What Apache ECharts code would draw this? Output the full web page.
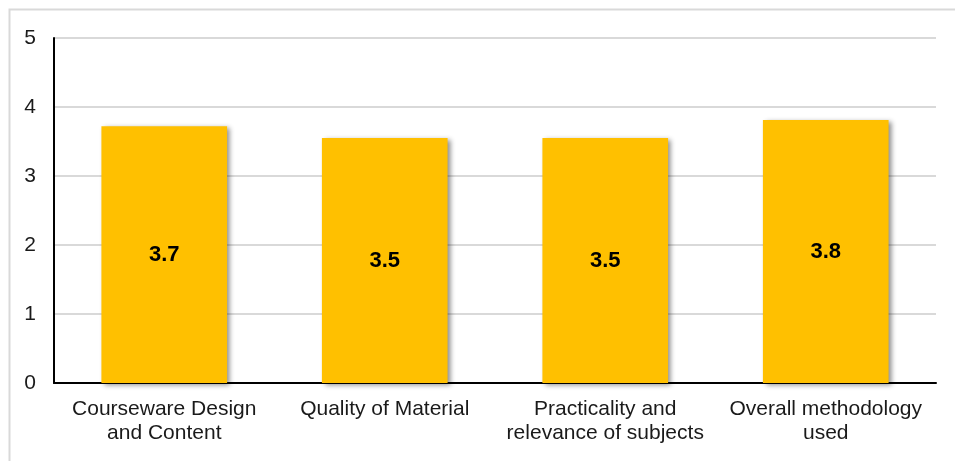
<!DOCTYPE html>
<html>
<head>
<meta charset="utf-8">
<script src="https://cdn.jsdelivr.net/npm/echarts@6/dist/echarts.min.js"></script>
<style>
  html, body { margin: 0; padding: 0; background: #fff; }
  #chart { width: 955px; height: 461px; }
</style>
</head>
<body>
<div id="chart"></div>
<script>
// chart values
const categories = ['Courseware Design\nand Content', 'Quality of Material', 'Practicality and\nrelevance of subjects', 'Overall methodology\nused']
const values = [3.72, 3.55, 3.55, 3.81]
const labels = ['3.7', '3.5', '3.5', '3.8']
const yTicks = [0, 1, 2, 3, 4, 5]

const chart = echarts.init(document.getElementById('chart'))

chart.setOption({
  animation: false,
  textStyle: { fontFamily: 'Liberation Sans, Arial, sans-serif' },
  graphic: [
    {                                              // outer frame, cut off at right and bottom
      type: 'rect',
      left: 7, top: 7,
      shape: { width: 960, height: 470 },
      style: { fill: 'none', stroke: '#d9d9d9', lineWidth: 2 },
      silent: true
    }
  ],
  grid: { left: 54, right: 19, top: 38, bottom: 78 },
  xAxis: {
    type: 'category',
    data: categories,
    axisLine: { lineStyle: { color: '#000', width: 2 } },
    axisTick: { show: false },
    axisLabel: {
      color: '#1a1a1a',
      fontSize: 21,
      lineHeight: 24,
      margin: 14,
      interval: 0
    }
  },
  yAxis: {
    type: 'value',
    min: yTicks[0],
    max: yTicks[yTicks.length - 1],
    interval: 1,
    axisLine: { show: true, lineStyle: { color: '#000', width: 2 } },
    axisTick: { show: false },
    axisLabel: { color: '#1a1a1a', fontSize: 21, margin: 18 },
    splitLine: { lineStyle: { color: '#d9d9d9', width: 2 } }
  },
  series: [
    {
      type: 'bar',
      data: values,
      barWidth: '57%',
      itemStyle: {
        color: '#FFC000',
        shadowColor: 'rgba(0,0,0,0.45)',
        shadowBlur: 5,
        shadowOffsetX: 3,
        shadowOffsetY: 2
      },
      label: {
        show: true,
        position: 'inside',
        color: '#000',
        fontSize: 22,
        fontWeight: 'bold',
        formatter: p => labels[p.dataIndex]
      }
    }
  ]
})
</script>
</body>
</html>
